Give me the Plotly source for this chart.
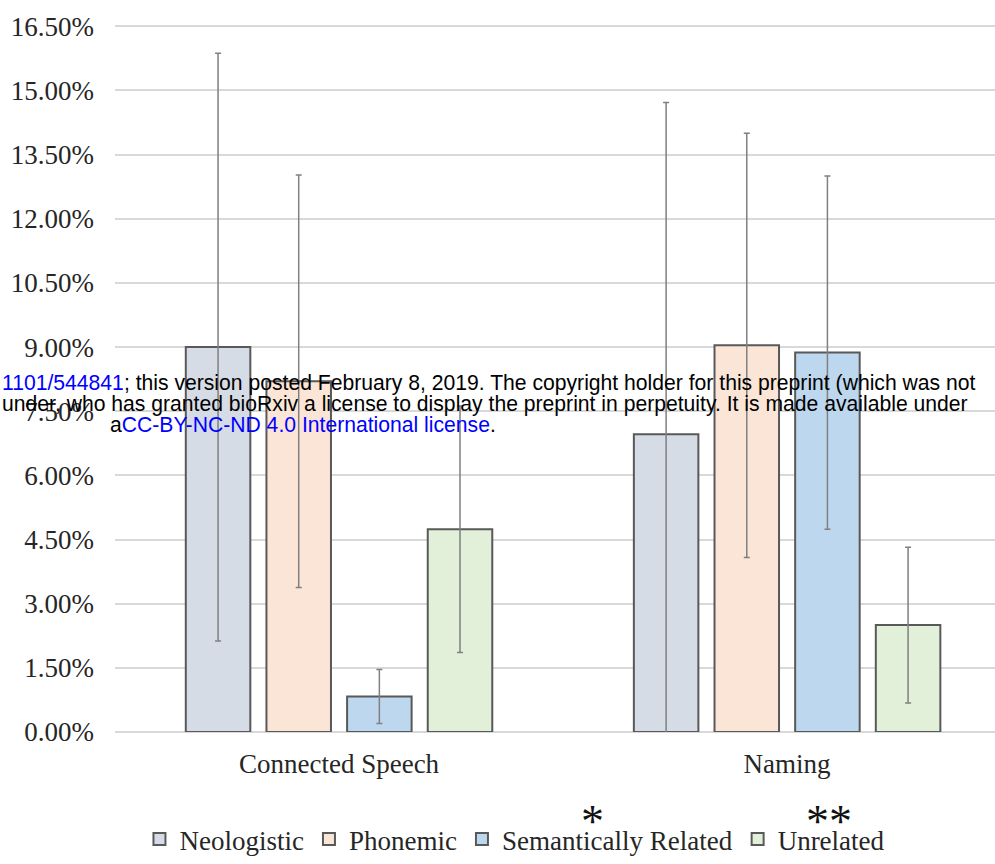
import plotly.graph_objects as go

categories = ["Connected Speech", "Naming"]
series = ["Neologistic", "Phonemic", "Semantically Related", "Unrelated"]
neologistic = [9.00, 6.96]
phonemic = [8.20, 9.04]
semantic = [0.83, 8.87]
unrelated = [4.74, 2.50]
neologistic_err = [6.87, 7.76]
phonemic_err = [4.82, 4.96]
semantic_err = [0.63, 4.13]
unrelated_err = [2.88, 1.82]
tick_vals = [0, 1.5, 3, 4.5, 6, 7.5, 9, 10.5, 12, 13.5, 15, 16.5]
tick_text = ["0.00%", "1.50%", "3.00%", "4.50%", "6.00%", "7.50%", "9.00%",
             "10.50%", "12.00%", "13.50%", "15.00%", "16.50%"]

values = [neologistic, phonemic, semantic, unrelated]
errors = [neologistic_err, phonemic_err, semantic_err, unrelated_err]
colors = ["#d6dce5", "#fbe5d6", "#bdd7ee", "#e2f0d9"]

fig = go.Figure()
for name, v, e, c in zip(series, values, errors, colors):
    fig.add_trace(go.Bar(
        x=categories, y=v, name=name,
        marker=dict(color=c, line=dict(color="#595959", width=2)),
        error_y=dict(type="data", array=e, visible=True, color="#808080",
                     thickness=1.5, width=3),
    ))

serif = "Liberation Serif, Times New Roman, serif"
fig.update_layout(
    width=995, height=864,
    margin=dict(l=115, r=0, t=22, b=132),
    paper_bgcolor="white", plot_bgcolor="white",
    barmode="group", bargap=0.28, bargroupgap=0.2,
    font=dict(family=serif, color="#262626", size=27),
    showlegend=True,
    legend=dict(orientation="h", x=0.4545, xanchor="center", y=-0.152, yanchor="middle",
                font=dict(family=serif, size=27, color="#262626"),
                itemwidth=30, traceorder="normal"),
    xaxis=dict(range=[-0.5, 1.464], showgrid=False, showline=False, zeroline=False,
               ticks="", ticklabelstandoff=13,
               tickfont=dict(family=serif, size=27, color="#262626")),
    yaxis=dict(range=[0, 16.6], tickvals=tick_vals, ticktext=tick_text,
               showgrid=True, gridcolor="#d9d9d9", gridwidth=2,
               zeroline=True, zerolinecolor="#d9d9d9", zerolinewidth=2,
               showline=False, ticks="", ticklabelstandoff=20,
               tickfont=dict(family=serif, size=27, color="#262626")),
)

# helpers: convert reference pixel position to paper coords of the plot area
def px(xp):
    return (xp - 115) / 880

def py(yp):
    return (732 - yp) / 710

# significance asterisks above legend entries
fig.add_annotation(xref="paper", yref="paper", x=px(592), y=py(821), xanchor="center", yanchor="middle",
                   text="*", showarrow=False, font=dict(family=serif, size=46, color="#111"))
fig.add_annotation(xref="paper", yref="paper", x=px(829), y=py(821), xanchor="center", yanchor="middle",
                   text="**", showarrow=False, font=dict(family=serif, size=46, color="#111"))

# bioRxiv watermark text
sans = "Liberation Sans, Arial, sans-serif"
blue = "#0000ff"
fig.add_annotation(xref="paper", yref="paper", x=px(0), xanchor="left",
                   y=py(383), yanchor="middle", showarrow=False,
                   text=f"<span style='color:{blue}'>1101/544841</span>; this version posted February 8, 2019. The copyright holder for this preprint (which was not",
                   font=dict(family=sans, size=21.15, color="black"))
fig.add_annotation(xref="paper", yref="paper", x=px(0), xanchor="left",
                   y=py(404), yanchor="middle", showarrow=False,
                   text="under, who has granted bioRxiv a license to display the preprint in perpetuity. It is made available under",
                   font=dict(family=sans, size=21.15, color="black"))
fig.add_annotation(xref="paper", yref="paper", x=px(108), xanchor="left",
                   y=py(424), yanchor="middle", showarrow=False,
                   text=f"a<span style='color:{blue}'>CC-BY-NC-ND 4.0 International license</span>.",
                   font=dict(family=sans, size=21.15, color="black"))

fig.write_html("out.html", config={"displayModeBar": False},
               post_script="document.body.style.margin='0';")
